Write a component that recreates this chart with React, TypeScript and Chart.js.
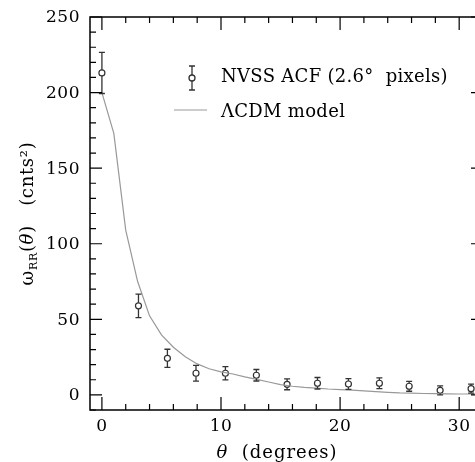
import React, { useEffect, useRef } from "react";
import { Chart, registerables } from "chart.js";

Chart.register(...registerables);

// NVSS ACF data (theta in degrees, omega in cnts^2)
const thetaData = [0, 3.07, 5.5, 7.9, 10.37, 12.97, 15.55, 18.1, 20.7, 23.3, 25.8, 28.4, 31.0];
const omegaData = [213, 58.9, 24.2, 14.3, 14.3, 13.0, 7.0, 7.7, 7.2, 7.7, 5.7, 3.0, 4.1];
const omegaErr = [13.6, 7.8, 6.0, 5.2, 4.4, 3.8, 3.6, 3.8, 3.6, 3.5, 3.3, 3.0, 3.0];

// LambdaCDM model curve
const thetaModel = [0, 1, 2, 3, 4, 5, 6, 7, 8, 9, 10, 11, 12, 13, 14, 15, 16, 17, 18, 19, 20, 21, 22, 23, 24, 25, 26, 27, 28, 29, 30, 31, 32];
const omegaModel = [200, 173, 109, 75, 52.3, 39.7, 31.5, 25.3, 20.5, 17.3, 15.2, 13.8, 11.9, 10.3, 8.5, 6.8, 5.7, 5.0, 4.5, 3.9, 3.5, 3.1, 2.6, 2.1, 1.7, 1.3, 1.1, 0.9, 0.8, 0.7, 0.6, 0.6, 0.5];

// Axis ticks
const xMajorTicks = [0, 10, 20, 30];
const xMinorStep = 2;
const yMajorTicks = [0, 50, 100, 150, 200, 250];
const yMinorStep = 10;

const FONT = "'DejaVu Serif', serif";

function setSpacing(ctx: any, px: number) {
  if ("letterSpacing" in ctx) ctx.letterSpacing = `${px}px`;
}

const framePlugin = {
  id: "framePlugin",
  afterDatasetsDraw(chart: any) {
    const ctx = chart.ctx as CanvasRenderingContext2D;
    const { left, right, top, bottom } = chart.chartArea;
    const xs = chart.scales.x;
    const ys = chart.scales.y;
    ctx.save();

    // error bars
    ctx.strokeStyle = "#333";
    ctx.lineWidth = 1.3;
    for (let i = 0; i < thetaData.length; i++) {
      const px = xs.getPixelForValue(thetaData[i]);
      const yTop = ys.getPixelForValue(omegaData[i] + omegaErr[i]);
      const yBot = ys.getPixelForValue(omegaData[i] - omegaErr[i]);
      const yc = ys.getPixelForValue(omegaData[i]);
      ctx.beginPath();
      ctx.moveTo(px, yTop);
      ctx.lineTo(px, yc - 3);
      ctx.moveTo(px, yc + 3);
      ctx.lineTo(px, yBot);
      ctx.moveTo(px - 3, yTop);
      ctx.lineTo(px + 3, yTop);
      ctx.moveTo(px - 3, yBot);
      ctx.lineTo(px + 3, yBot);
      ctx.stroke();
    }

    // frame
    ctx.strokeStyle = "#000";
    ctx.lineWidth = 1.5;
    ctx.strokeRect(left, top, right - left, bottom - top);

    // ticks
    ctx.lineWidth = 1.2;
    ctx.beginPath();
    const xmin = xs.min, xmax = xs.max;
    for (let v = Math.ceil(xmin / xMinorStep) * xMinorStep; v <= xmax + 1e-9; v += xMinorStep) {
      const major = xMajorTicks.includes(v);
      const len = major ? 13 : 6;
      const px = xs.getPixelForValue(v);
      ctx.moveTo(px, bottom);
      ctx.lineTo(px, bottom - len);
      ctx.moveTo(px, top);
      ctx.lineTo(px, top + len);
    }
    const ymin = ys.min, ymax = ys.max;
    for (let v = Math.ceil(ymin / yMinorStep) * yMinorStep; v <= ymax + 1e-9; v += yMinorStep) {
      const major = yMajorTicks.includes(v);
      const len = major ? 12 : 6;
      const py = ys.getPixelForValue(v);
      ctx.moveTo(left, py);
      ctx.lineTo(left + len, py);
      ctx.moveTo(right, py);
      ctx.lineTo(right - len, py);
    }
    ctx.stroke();

    // tick labels
    ctx.fillStyle = "#000";
    ctx.font = `17px ${FONT}`;
    setSpacing(ctx, 0.5);
    ctx.textBaseline = "middle";
    ctx.textAlign = "right";
    for (const v of yMajorTicks) {
      ctx.fillText(String(v), left - 10, ys.getPixelForValue(v) + 1);
    }
    ctx.textAlign = "center";
    for (const v of xMajorTicks) {
      ctx.fillText(String(v), xs.getPixelForValue(v), bottom + 17);
    }

    // x title: "θ  (degrees)"
    setSpacing(ctx, 1);
    ctx.textAlign = "left";
    ctx.textBaseline = "alphabetic";
    const xt1 = "θ";
    const xt2 = "  (degrees)";
    ctx.font = `italic 18px ${FONT}`;
    const w1 = ctx.measureText(xt1).width;
    ctx.font = `18px ${FONT}`;
    const w2 = ctx.measureText(xt2).width;
    const xcenter = 277;
    const xstart = xcenter - (w1 + w2) / 2;
    ctx.font = `italic 18px ${FONT}`;
    ctx.fillText(xt1, xstart, 458);
    ctx.font = `18px ${FONT}`;
    ctx.fillText(xt2, xstart + w1, 458);

    // y title: "ω_RR(θ)  (cnts²)"
    setSpacing(ctx, 0.7);
    const parts: [string, string, number][] = [
      ["ω", `18px ${FONT}`, 0],
      ["RR", `11px ${FONT}`, 4],
      ["(", `18px ${FONT}`, 0],
      ["θ", `italic 18px ${FONT}`, 0],
      [")", `18px ${FONT}`, 0],
      ["   (cnts²)", `18px ${FONT}`, 0],
    ];
    let total = 0;
    const widths: number[] = [];
    for (const [t, f] of parts) {
      ctx.font = f;
      const w = ctx.measureText(t).width;
      widths.push(w);
      total += w;
    }
    ctx.save();
    ctx.translate(33, (top + bottom) / 2);
    ctx.rotate(-Math.PI / 2);
    let cx = -total / 2;
    parts.forEach(([t, f, dy], i) => {
      ctx.font = f;
      ctx.fillText(t, cx, dy);
      cx += widths[i];
    });
    ctx.restore();

    // legend
    setSpacing(ctx, 0.3);
    ctx.strokeStyle = "#333";
    ctx.lineWidth = 1.3;
    const lx = 192, ly = 78;
    ctx.beginPath();
    ctx.moveTo(lx, ly - 12);
    ctx.lineTo(lx, ly - 3);
    ctx.moveTo(lx, ly + 3);
    ctx.lineTo(lx, ly + 12);
    ctx.moveTo(lx - 3, ly - 12);
    ctx.lineTo(lx + 3, ly - 12);
    ctx.moveTo(lx - 3, ly + 12);
    ctx.lineTo(lx + 3, ly + 12);
    ctx.stroke();
    ctx.beginPath();
    ctx.arc(lx, ly, 3, 0, Math.PI * 2);
    ctx.stroke();
    ctx.strokeStyle = "#999";
    ctx.lineWidth = 1.2;
    ctx.beginPath();
    ctx.moveTo(174, 110);
    ctx.lineTo(207, 110);
    ctx.stroke();
    ctx.fillStyle = "#000";
    ctx.font = `18px ${FONT}`;
    ctx.textBaseline = "middle";
    ctx.textAlign = "left";
    ctx.fillText("NVSS ACF (2.6°  pixels)", 221, 77);
    ctx.fillText("ΛCDM model", 221, 112);

    ctx.restore();
  },
};

export default function App() {
  const ref = useRef<HTMLCanvasElement | null>(null);
  useEffect(() => {
    document.body.style.margin = "0";
    if (!ref.current) return;
    const chart = new Chart(ref.current, {
      type: "scatter",
      data: {
        datasets: [
          {
            type: "line",
            label: "ΛCDM model",
            data: thetaModel.map((t, i) => ({ x: t, y: omegaModel[i] })),
            borderColor: "#999",
            borderWidth: 1.2,
            pointRadius: 0,
            fill: false,
            tension: 0,
          } as any,
          {
            label: "NVSS ACF (2.6° pixels)",
            data: thetaData.map((t, i) => ({ x: t, y: omegaData[i] })),
            pointStyle: "circle",
            pointRadius: 3,
            borderColor: "#333",
            backgroundColor: "rgba(255,255,255,0)",
            borderWidth: 1.2,
          },
        ],
      },
      options: {
        responsive: false,
        animation: false,
        devicePixelRatio: 1,
        layout: { padding: { left: 90, right: 7, top: 17, bottom: 52 } },
        plugins: { legend: { display: false }, tooltip: { enabled: false } },
        scales: {
          x: { type: "linear", min: -1, max: 32, display: false },
          y: { type: "linear", min: -10, max: 250, display: false },
        },
      },
      plugins: [framePlugin],
    });
    return () => chart.destroy();
  }, []);
  return (
    <div style={{ position: "fixed", left: 0, top: 0, width: 475, height: 462, overflow: "hidden", background: "#fff" }}>
      <canvas ref={ref} width={490} height={462} style={{ display: "block" }} />
    </div>
  );
}
